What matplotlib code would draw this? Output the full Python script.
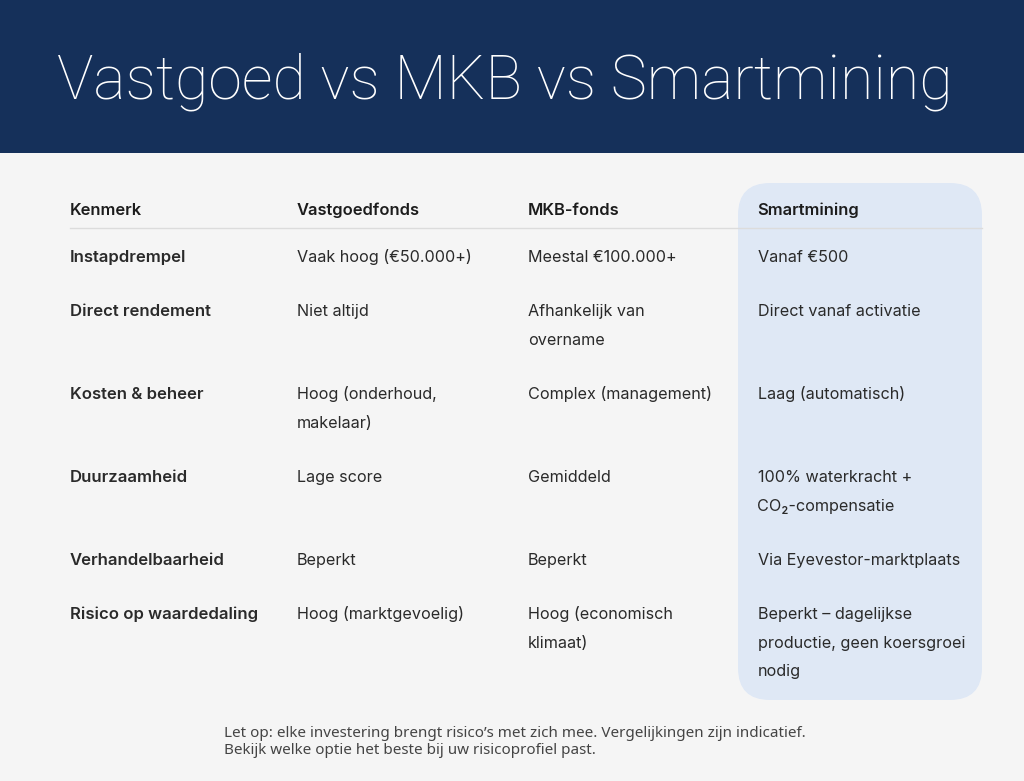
import matplotlib
matplotlib.use("Agg")
import matplotlib.pyplot as plt
from matplotlib.patches import FancyBboxPatch, Rectangle

title = "Vastgoed vs MKB vs Smartmining"
columns = ["Kenmerk", "Vastgoedfonds", "MKB-fonds", "Smartmining"]
kenmerk = ["Instapdrempel", "Direct rendement", "Kosten & beheer", "Duurzaamheid",
           "Verhandelbaarheid", "Risico op waardedaling"]
vastgoed = ["Vaak hoog (€50.000+)", "Niet altijd", "Hoog (onderhoud,\nmakelaar)",
            "Lage score", "Beperkt", "Hoog (marktgevoelig)"]
mkb = ["Meestal €100.000+", "Afhankelijk van\novername", "Complex (management)",
       "Gemiddeld", "Beperkt", "Hoog (economisch\nklimaat)"]
smartmining = ["Vanaf €500", "Direct vanaf activatie", "Laag (automatisch)",
               "100% waterkracht +\nCO₂-compensatie", "Via Eyevestor-marktplaats",
               "Beperkt – dagelijkse\nproductie, geen koersgroei\nnodig"]
note = ["Let op: elke investering brengt risico’s met zich mee. Vergelijkingen zijn indicatief.",
        "Bekijk welke optie het beste bij uw risicoprofiel past."]

plt.rcParams['font.family'] = ['Inter', 'DejaVu Sans']

# axes in pixels, so the layout can be read straight off the picture
fig = plt.figure(figsize=(10.24, 7.81), dpi=100, facecolor='#f5f5f5')
ax = fig.add_axes([0, 0, 1, 1])
ax.set_xlim(0, 1024)
ax.set_ylim(781, 0)
ax.axis('off')

ax.add_patch(Rectangle((0, 0), 1024, 153, color='#15305a', lw=0))
ax.text(57, 98.5, title, color='white', fontsize=43.8, va='baseline', family='Roboto', weight='light')

# highlighted column
r = 32
ax.add_patch(FancyBboxPatch((738 + r, 183 + r), 244 - 2 * r, 517 - 2 * r,
                            boxstyle=f"round,pad={r},rounding_size={r}",
                            fc='#dfe8f5', ec='none', mutation_aspect=1))

ax.plot([70, 982], [228, 228], color='#dcdcdc', lw=1)

col_x = [70, 297, 528, 757.5]
for x, name in zip(col_x, columns):
    ax.text(x, 215, name, color='#1c1c1c', fontsize=11.9, weight='semibold', va='baseline')

line_h = 28.7
y = 262
for row in range(len(kenmerk)):
    cells = [kenmerk[row], vastgoed[row], mkb[row], smartmining[row]]
    for i, (x, cell) in enumerate(zip(col_x, cells)):
        for k, line in enumerate(cell.split("\n")):
            ax.text(x, y + k * line_h, line, color='#2a2a2a', va='baseline',
                    fontsize=12 if i == 0 else 11.65,
                    weight='semibold' if i == 0 else 'normal')
    n_lines = max(c.count("\n") + 1 for c in cells)
    y += 25 + 29 * n_lines

ax.text(224, 737, note[0], color='#444444', fontsize=10.93, va='baseline', family='Noto Sans')
ax.text(224, 754, note[1], color='#444444', fontsize=10.93, va='baseline', family='Noto Sans')

fig.savefig('out.png', dpi=100, facecolor=fig.get_facecolor())
